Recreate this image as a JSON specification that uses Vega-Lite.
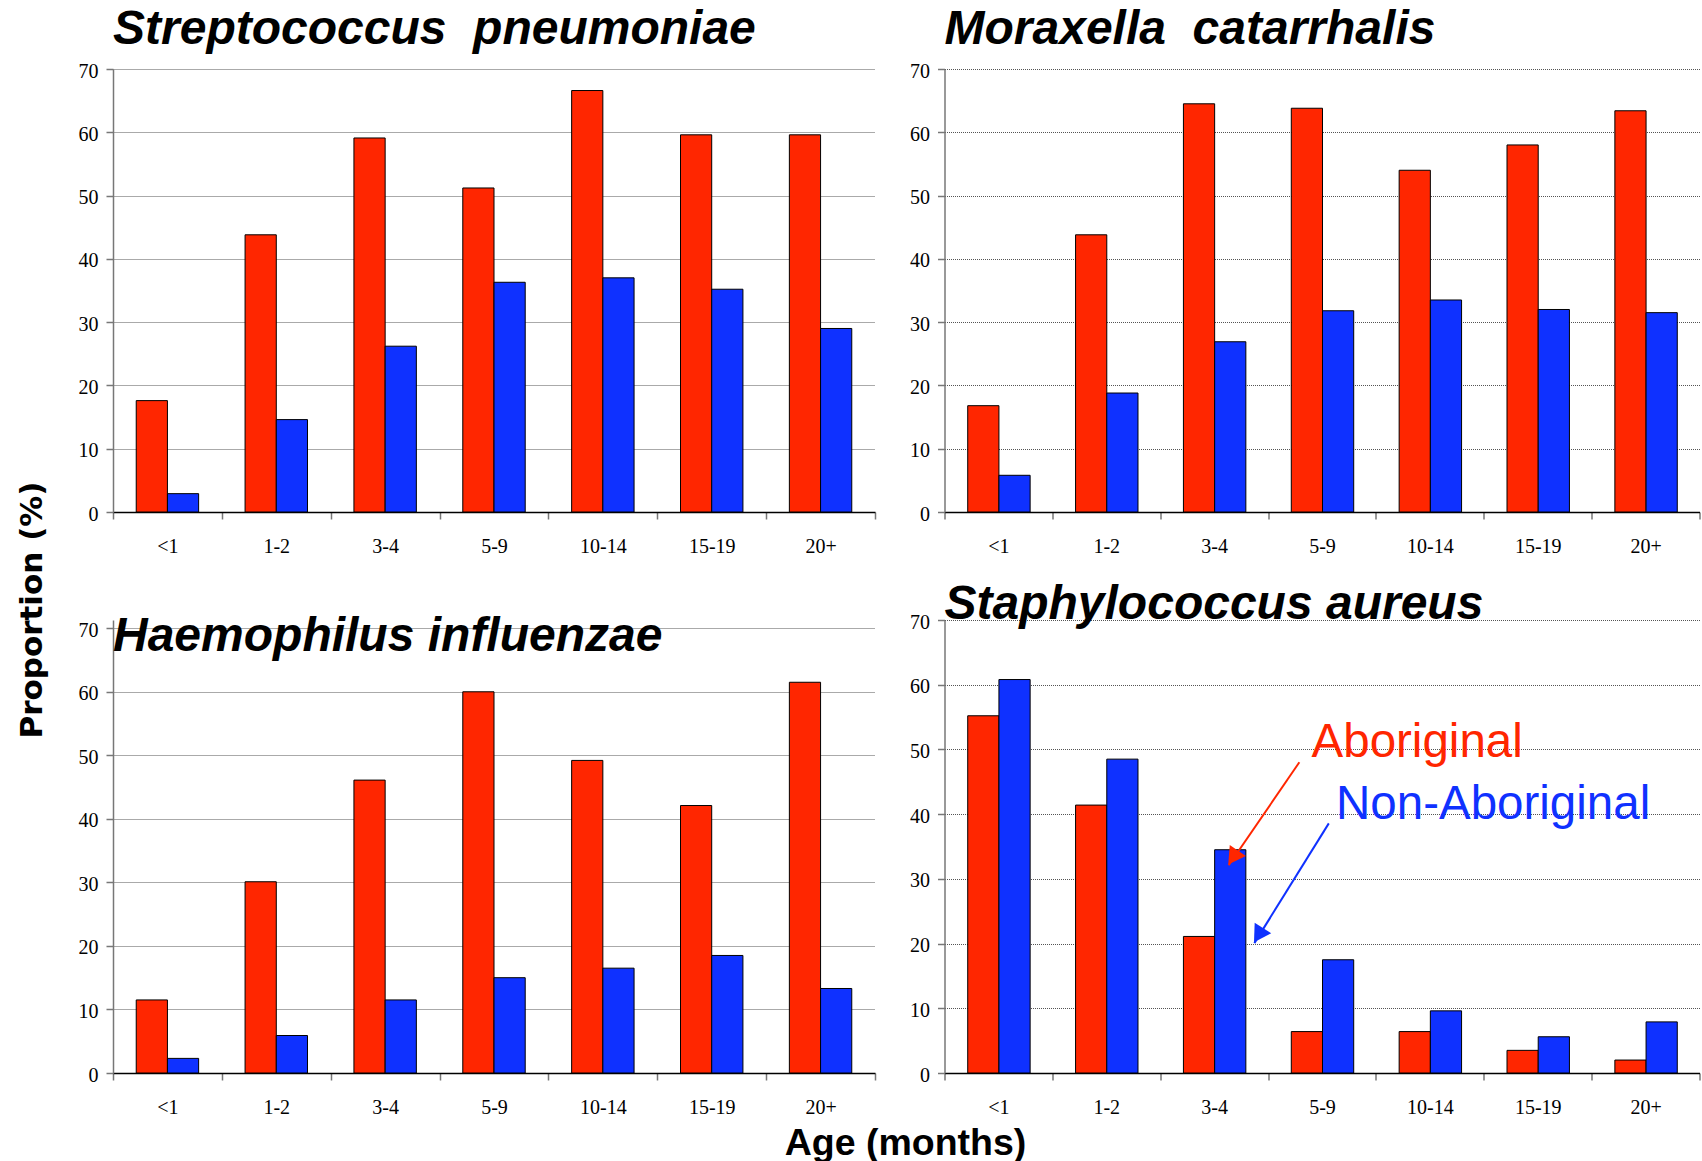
{
  "$schema": "https://vega.github.io/schema/vega-lite/v6.json",
  "background": "white",
  "padding": {"left": 16, "top": 6, "right": 0, "bottom": 0},
  "datasets": {
    "bars": [
      {"panel": "Sp", "age": "<1", "group": "Aboriginal", "value": 17.6},
      {"panel": "Sp", "age": "<1", "group": "Non-Aboriginal", "value": 2.9},
      {"panel": "Sp", "age": "1-2", "group": "Aboriginal", "value": 43.8},
      {"panel": "Sp", "age": "1-2", "group": "Non-Aboriginal", "value": 14.6},
      {"panel": "Sp", "age": "3-4", "group": "Aboriginal", "value": 59.1},
      {"panel": "Sp", "age": "3-4", "group": "Non-Aboriginal", "value": 26.2},
      {"panel": "Sp", "age": "5-9", "group": "Aboriginal", "value": 51.2},
      {"panel": "Sp", "age": "5-9", "group": "Non-Aboriginal", "value": 36.3},
      {"panel": "Sp", "age": "10-14", "group": "Aboriginal", "value": 66.6},
      {"panel": "Sp", "age": "10-14", "group": "Non-Aboriginal", "value": 37.0},
      {"panel": "Sp", "age": "15-19", "group": "Aboriginal", "value": 59.6},
      {"panel": "Sp", "age": "15-19", "group": "Non-Aboriginal", "value": 35.2},
      {"panel": "Sp", "age": "20+", "group": "Aboriginal", "value": 59.6},
      {"panel": "Sp", "age": "20+", "group": "Non-Aboriginal", "value": 29.0},
      {"panel": "Mc", "age": "<1", "group": "Aboriginal", "value": 16.8},
      {"panel": "Mc", "age": "<1", "group": "Non-Aboriginal", "value": 5.8},
      {"panel": "Mc", "age": "1-2", "group": "Aboriginal", "value": 43.8},
      {"panel": "Mc", "age": "1-2", "group": "Non-Aboriginal", "value": 18.8},
      {"panel": "Mc", "age": "3-4", "group": "Aboriginal", "value": 64.5},
      {"panel": "Mc", "age": "3-4", "group": "Non-Aboriginal", "value": 26.9},
      {"panel": "Mc", "age": "5-9", "group": "Aboriginal", "value": 63.8},
      {"panel": "Mc", "age": "5-9", "group": "Non-Aboriginal", "value": 31.8},
      {"panel": "Mc", "age": "10-14", "group": "Aboriginal", "value": 54.0},
      {"panel": "Mc", "age": "10-14", "group": "Non-Aboriginal", "value": 33.5},
      {"panel": "Mc", "age": "15-19", "group": "Aboriginal", "value": 58.0},
      {"panel": "Mc", "age": "15-19", "group": "Non-Aboriginal", "value": 32.0},
      {"panel": "Mc", "age": "20+", "group": "Aboriginal", "value": 63.4},
      {"panel": "Mc", "age": "20+", "group": "Non-Aboriginal", "value": 31.5},
      {"panel": "Hi", "age": "<1", "group": "Aboriginal", "value": 11.5},
      {"panel": "Hi", "age": "<1", "group": "Non-Aboriginal", "value": 2.3},
      {"panel": "Hi", "age": "1-2", "group": "Aboriginal", "value": 30.1},
      {"panel": "Hi", "age": "1-2", "group": "Non-Aboriginal", "value": 5.9},
      {"panel": "Hi", "age": "3-4", "group": "Aboriginal", "value": 46.1},
      {"panel": "Hi", "age": "3-4", "group": "Non-Aboriginal", "value": 11.5},
      {"panel": "Hi", "age": "5-9", "group": "Aboriginal", "value": 60.0},
      {"panel": "Hi", "age": "5-9", "group": "Non-Aboriginal", "value": 15.0},
      {"panel": "Hi", "age": "10-14", "group": "Aboriginal", "value": 49.2},
      {"panel": "Hi", "age": "10-14", "group": "Non-Aboriginal", "value": 16.5},
      {"panel": "Hi", "age": "15-19", "group": "Aboriginal", "value": 42.1},
      {"panel": "Hi", "age": "15-19", "group": "Non-Aboriginal", "value": 18.5},
      {"panel": "Hi", "age": "20+", "group": "Aboriginal", "value": 61.5},
      {"panel": "Hi", "age": "20+", "group": "Non-Aboriginal", "value": 13.3},
      {"panel": "Sa", "age": "<1", "group": "Aboriginal", "value": 55.2},
      {"panel": "Sa", "age": "<1", "group": "Non-Aboriginal", "value": 60.8},
      {"panel": "Sa", "age": "1-2", "group": "Aboriginal", "value": 41.4},
      {"panel": "Sa", "age": "1-2", "group": "Non-Aboriginal", "value": 48.5},
      {"panel": "Sa", "age": "3-4", "group": "Aboriginal", "value": 21.1},
      {"panel": "Sa", "age": "3-4", "group": "Non-Aboriginal", "value": 34.5},
      {"panel": "Sa", "age": "5-9", "group": "Aboriginal", "value": 6.4},
      {"panel": "Sa", "age": "5-9", "group": "Non-Aboriginal", "value": 17.5},
      {"panel": "Sa", "age": "10-14", "group": "Aboriginal", "value": 6.4},
      {"panel": "Sa", "age": "10-14", "group": "Non-Aboriginal", "value": 9.6},
      {"panel": "Sa", "age": "15-19", "group": "Aboriginal", "value": 3.5},
      {"panel": "Sa", "age": "15-19", "group": "Non-Aboriginal", "value": 5.6},
      {"panel": "Sa", "age": "20+", "group": "Aboriginal", "value": 2.0},
      {"panel": "Sa", "age": "20+", "group": "Non-Aboriginal", "value": 7.9}
    ],
    "notes": [
      {"group": "Aboriginal", "label": "Aboriginal", "tx": 3.403, "ty": 48.83, "sx": 3.290, "sy": 48.01, "ex": 2.635, "ey": 32.10, "hx": 2.675, "hy": 33.3},
      {"group": "Non-Aboriginal", "label": "Non-Aboriginal", "tx": 3.630, "ty": 39.25, "sx": 3.563, "sy": 38.57, "ex": 2.873, "ey": 20.07, "hx": 2.911, "hy": 21.3}
    ]
  },
  "columns": 2,
  "bounds": "flush",
  "align": "each",
  "spacing": {"row": 108, "column": 69.5},
  "concat": [
    {
      "data": {"name": "bars"},
      "transform": [{"filter": "datum.panel === 'Sp'"}],
      "width": 762,
      "height": 443,
      "title": {"text": "Streptococcus\u00a0 pneumoniae", "offset": 7},
      "mark": {"type": "bar", "stroke": "black", "strokeWidth": 1},
      "encoding": {
        "x": {"field": "age", "type": "nominal", "sort": ["<1", "1-2", "3-4", "5-9", "10-14", "15-19", "20+"], "scale": {"paddingInner": 0, "paddingOuter": 0}, "axis": {"title": null}},
        "xOffset": {"field": "group", "type": "nominal", "scale": {"paddingInner": 0, "paddingOuter": 0.744}},
        "y": {"field": "value", "type": "quantitative", "scale": {"domain": [0, 70], "nice": false},
              "axis": {"values": [0, 10, 20, 30, 40, 50, 60, 70], "title": "Proportion (%)", "titleFont": "DejaVu Sans", "titleFontSize": 31, "titleFontWeight": "bold", "titleAngle": -90, "titleAlign": "center", "titleBaseline": "middle", "titleX": -80.5, "titleY": 540.5}},
        "color": {"field": "group", "type": "nominal", "scale": {"domain": ["Aboriginal", "Non-Aboriginal"], "range": ["#FF2600", "#0F31FF"]}, "legend": null}
      }
    },
    {
      "data": {"name": "bars"},
      "transform": [{"filter": "datum.panel === 'Mc'"}],
      "width": 755,
      "height": 443,
      "title": {"text": "Moraxella\u00a0 catarrhalis", "offset": 7},
      "mark": {"type": "bar", "stroke": "black", "strokeWidth": 1},
      "encoding": {
        "x": {"field": "age", "type": "nominal", "sort": ["<1", "1-2", "3-4", "5-9", "10-14", "15-19", "20+"], "scale": {"paddingInner": 0, "paddingOuter": 0}, "axis": {"title": null}},
        "xOffset": {"field": "group", "type": "nominal", "scale": {"paddingInner": 0, "paddingOuter": 0.744}},
        "y": {"field": "value", "type": "quantitative", "scale": {"domain": [0, 70], "nice": false}, "axis": {"values": [0, 10, 20, 30, 40, 50, 60, 70], "title": null}},
        "color": {"field": "group", "type": "nominal", "scale": {"domain": ["Aboriginal", "Non-Aboriginal"], "range": ["#FF2600", "#0F31FF"]}, "legend": null}
      }
    },
    {
      "data": {"name": "bars"},
      "transform": [{"filter": "datum.panel === 'Hi'"}],
      "width": 762,
      "height": 453,
      "title": {"text": "Haemophilus influenzae", "offset": -41},
      "mark": {"type": "bar", "stroke": "black", "strokeWidth": 1},
      "encoding": {
        "x": {"field": "age", "type": "nominal", "sort": ["<1", "1-2", "3-4", "5-9", "10-14", "15-19", "20+"], "scale": {"paddingInner": 0, "paddingOuter": 0},
              "axis": {"title": "Age (months)", "titleFont": "Liberation Sans", "titleFontSize": 37.5, "titleFontWeight": "bold", "titleAlign": "center", "titleBaseline": "alphabetic", "titleAngle": 0, "titleX": 792, "titleY": 81}},
        "xOffset": {"field": "group", "type": "nominal", "scale": {"paddingInner": 0, "paddingOuter": 0.744}},
        "y": {"field": "value", "type": "quantitative", "scale": {"domain": [0, 71.3], "nice": false}, "axis": {"values": [0, 10, 20, 30, 40, 50, 60, 70], "title": null}},
        "color": {"field": "group", "type": "nominal", "scale": {"domain": ["Aboriginal", "Non-Aboriginal"], "range": ["#FF2600", "#0F31FF"]}, "legend": null}
      }
    },
    {
      "width": 755,
      "height": 453,
      "title": {"text": "Staphylococcus aureus", "offset": -16.5},
      "layer": [
        {
          "data": {"name": "bars"},
          "transform": [{"filter": "datum.panel === 'Sa'"}],
          "mark": {"type": "bar", "stroke": "black", "strokeWidth": 1},
          "encoding": {
            "x": {"field": "age", "type": "nominal", "sort": ["<1", "1-2", "3-4", "5-9", "10-14", "15-19", "20+"], "scale": {"paddingInner": 0, "paddingOuter": 0}, "axis": {"title": null}},
            "xOffset": {"field": "group", "type": "nominal", "scale": {"paddingInner": 0, "paddingOuter": 0.744}},
            "y": {"field": "value", "type": "quantitative", "scale": {"domain": [0, 70], "nice": false}, "axis": {"values": [0, 10, 20, 30, 40, 50, 60, 70], "title": null}},
            "color": {"field": "group", "type": "nominal", "scale": {"domain": ["Aboriginal", "Non-Aboriginal"], "range": ["#FF2600", "#0F31FF"]}, "legend": null}
          }
        },
        {
          "data": {"name": "notes"},
          "mark": {"type": "rule", "strokeWidth": 2},
          "encoding": {
            "x": {"field": "sx", "type": "quantitative", "scale": {"domain": [0, 7], "nice": false, "zero": false}, "axis": null},
            "x2": {"field": "ex"},
            "y": {"field": "sy", "type": "quantitative", "scale": {"domain": [0, 70], "nice": false}, "axis": {"values": [0, 10, 20, 30, 40, 50, 60, 70], "title": null}},
            "y2": {"field": "ey"},
            "color": {"field": "group", "type": "nominal", "legend": null}
          }
        },
        {
          "data": {"name": "notes"},
          "transform": [{"filter": "datum.group === 'Aboriginal'"}],
          "mark": {"type": "point", "shape": "triangle-up", "filled": true, "opacity": 1, "size": 380, "angle": 214.5},
          "encoding": {
            "x": {"field": "hx", "type": "quantitative", "scale": {"domain": [0, 7], "nice": false, "zero": false}, "axis": null},
            "y": {"field": "hy", "type": "quantitative", "scale": {"domain": [0, 70], "nice": false}, "axis": {"values": [0, 10, 20, 30, 40, 50, 60, 70], "title": null}},
            "color": {"field": "group", "type": "nominal", "legend": null}
          }
        },
        {
          "data": {"name": "notes"},
          "transform": [{"filter": "datum.group === 'Non-Aboriginal'"}],
          "mark": {"type": "point", "shape": "triangle-up", "filled": true, "opacity": 1, "size": 380, "angle": 212},
          "encoding": {
            "x": {"field": "hx", "type": "quantitative", "scale": {"domain": [0, 7], "nice": false, "zero": false}, "axis": null},
            "y": {"field": "hy", "type": "quantitative", "scale": {"domain": [0, 70], "nice": false}, "axis": {"values": [0, 10, 20, 30, 40, 50, 60, 70], "title": null}},
            "color": {"field": "group", "type": "nominal", "legend": null}
          }
        },
        {
          "data": {"name": "notes"},
          "mark": {"type": "text", "align": "left", "baseline": "alphabetic", "font": "Liberation Sans", "fontSize": 47.5},
          "encoding": {
            "x": {"field": "tx", "type": "quantitative", "scale": {"domain": [0, 7], "nice": false, "zero": false}, "axis": null},
            "y": {"field": "ty", "type": "quantitative", "scale": {"domain": [0, 70], "nice": false}, "axis": {"values": [0, 10, 20, 30, 40, 50, 60, 70], "title": null}},
            "text": {"field": "label"},
            "color": {"field": "group", "type": "nominal", "legend": null}
          }
        }
      ],
      "resolve": {"scale": {"x": "independent"}, "axis": {"x": "independent"}}
    }
  ],
  "config": {
    "view": {"stroke": null},
    "title": {"anchor": "start", "frame": "group", "font": "Liberation Sans", "fontSize": 48, "fontWeight": "bold", "fontStyle": "italic", "color": "black"},
    "axis": {"labelFont": "Liberation Serif", "labelFontSize": 20, "labelColor": "black", "tickColor": "#777", "tickWidth": 1.5, "domainWidth": 1.5, "titleColor": "black"},
    "axisX": {"domainColor": "black", "tickBand": "extent", "tickSize": 7, "labelPadding": 17, "labelAngle": 0, "grid": false},
    "axisY": {"domainColor": "#777", "tickSize": 7, "labelPadding": 8, "labelOffset": 2, "grid": true, "gridColor": "#555", "gridDash": [1, 1], "gridWidth": 1}
  }
}
